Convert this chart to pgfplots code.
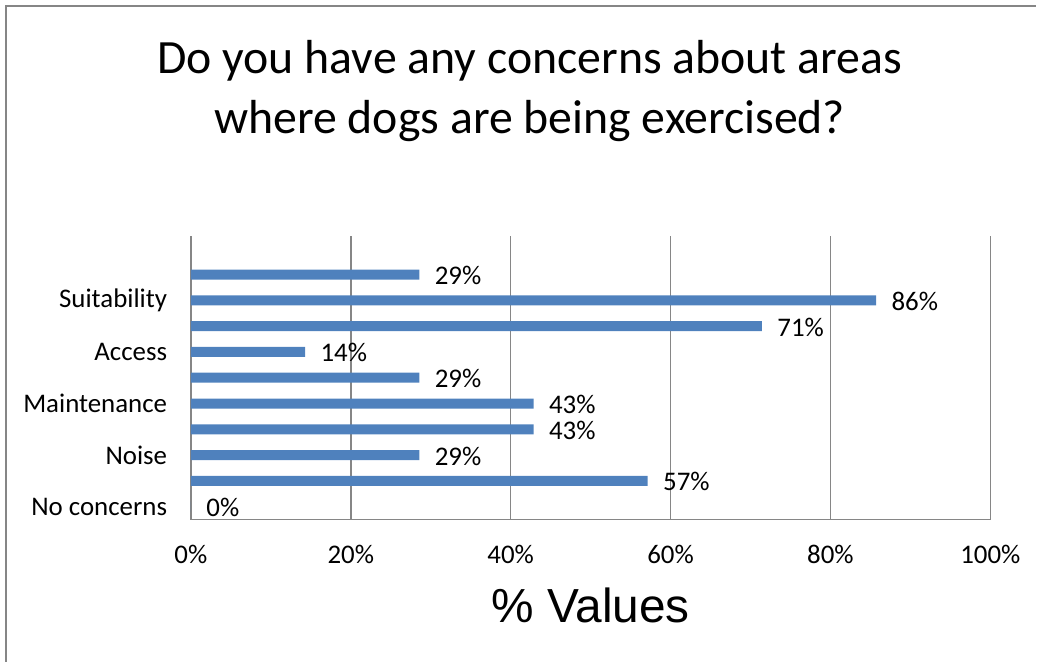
\documentclass[border=0pt]{standalone}
\usepackage{pgfplots}
\pgfplotsset{compat=1.18}
\usepackage{fontspec}
\setmainfont{Carlito}
\newfontfamily\arialfont{Liberation Sans}
\definecolor{barblue}{HTML}{4F81BD}
\definecolor{gridgray}{HTML}{868686}
\begin{document}
\begin{tikzpicture}[x=1bp,y=1bp]
\path (0,0) rectangle (1037,662);
\draw[gridgray, line width=1.5bp] (6,0) -- (6,656) -- (1037,656);
\node[font=\fontsize{48}{60}\selectfont, align=center] at (530,571) {Do you have any concerns about areas\\where dogs are being exercised?};
\begin{axis}[
  at={(191bp,142bp)}, anchor=south west,
  scale only axis, width=800bp, height=284bp,
  xbar, bar width=10bp,
  xmin=0, xmax=100, ymin=-0.5, ymax=10.5,
  xtick={0,20,40,60,80,100},
  xticklabels={0\%,20\%,40\%,60\%,80\%,100\%},
  ytick={0,2,4,6,8},
  yticklabels={No concerns,Noise,Maintenance,Access,Suitability},
  tick style={draw=none},
  xmajorgrids, grid style={gridgray, line width=1.5bp},
  axis x line*=bottom, axis y line*=left,
  axis line style={gridgray, line width=1.5bp, -},
  tick label style={font=\fontsize{27}{30}\selectfont},
  xticklabel style={yshift=-22bp},
  yticklabel style={xshift=-16bp},
  xlabel={\arialfont\% Values},
  xlabel style={font=\fontsize{48}{54}\selectfont, yshift=-17bp},
  point meta=x,
  nodes near coords={\pgfmathprintnumber[fixed,precision=0]{\pgfplotspointmeta}\%},
  nodes near coords style={font=\fontsize{27}{30}\selectfont, anchor=west, xshift=12bp, yshift=-1bp, /pgf/number format/assume math mode=true},
  /pgf/number format/assume math mode=true,
  clip=false,
]
\addplot[fill=barblue, draw=none] coordinates {
(0,0) (57.14,1) (28.57,2) (42.86,3) (42.86,4) (28.57,5) (14.29,6) (71.43,7) (85.71,8) (28.57,9)
};
\end{axis}
\end{tikzpicture}
\end{document}
